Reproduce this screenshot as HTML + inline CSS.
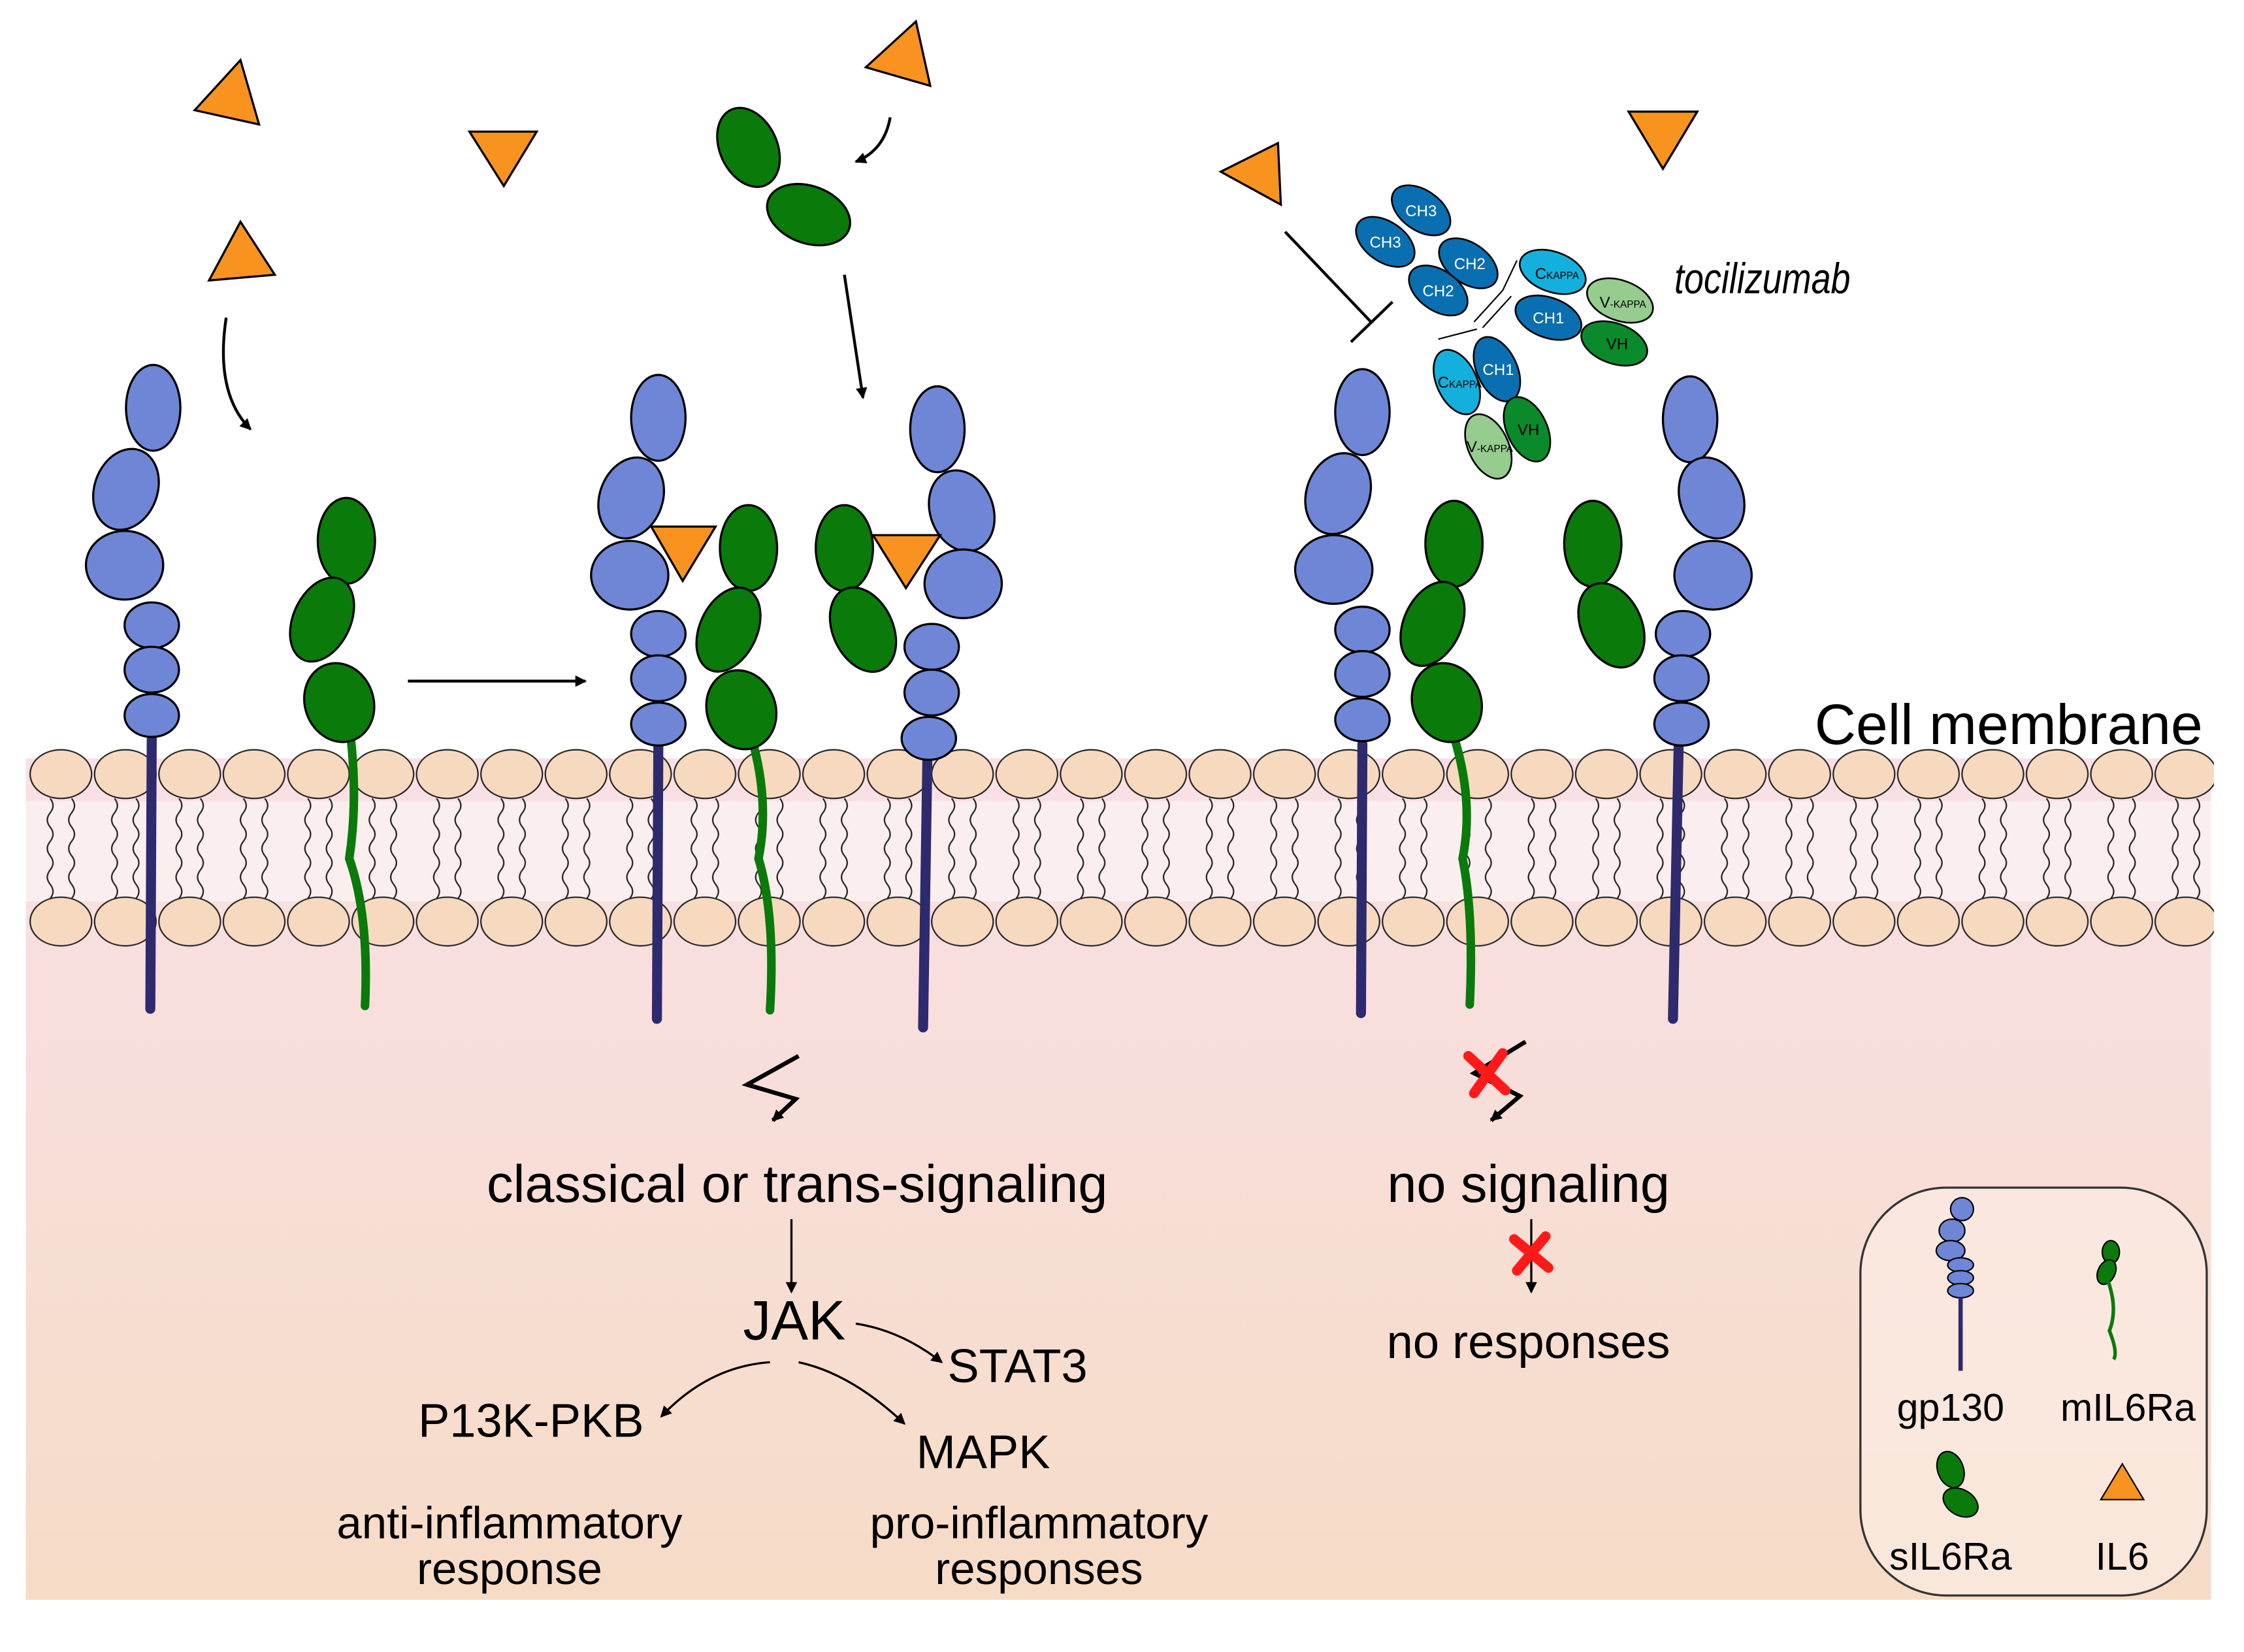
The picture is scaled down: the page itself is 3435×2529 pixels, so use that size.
<!DOCTYPE html>
<html><head><meta charset="utf-8"><style>html,body{margin:0;padding:0;background:#fff}svg{display:block}text{font-family:"Liberation Sans",sans-serif}</style></head>
<body>
<svg width="3435" height="2529" viewBox="0 0 1568 1154.5" xmlns="http://www.w3.org/2000/svg">
<defs>
<linearGradient id="bg" x1="0" y1="0" x2="0" y2="1">
<stop offset="0" stop-color="#f9e0e6"/><stop offset="1" stop-color="#f6dcc6"/>
</linearGradient>
<pattern id="mem" patternUnits="userSpaceOnUse" x="20" y="520" width="45" height="145">
<g fill="none" stroke="#222" stroke-width="1">
<path d="M15,38 q4,5 0,10 q-4,5 0,10 q4,5 0,10 q-4,5 0,10 q4,5 0,10 q-4,5 0,10 q4,5 0,10"/>
<path d="M30,38 q4,5 0,10 q-4,5 0,10 q4,5 0,10 q-4,5 0,10 q4,5 0,10 q-4,5 0,10 q4,5 0,10"/>
</g>
<ellipse cx="22.5" cy="21" rx="21.5" ry="17" fill="#f7d9bf" stroke="#222" stroke-width="1"/>
<ellipse cx="22.5" cy="124" rx="21.5" ry="17" fill="#f7d9bf" stroke="#222" stroke-width="1"/>
</pattern>
<marker id="ah" markerWidth="8" markerHeight="8" refX="7" refY="4" orient="auto" markerUnits="userSpaceOnUse"><path d="M0,0 L8,4 L0,8 z" fill="#000"/></marker>
</defs>
<rect x="18" y="530" width="1527" height="588" fill="url(#bg)"/>
<rect x="18" y="560" width="1527" height="70" fill="#fbeeee"/>
<rect x="20" y="520" width="1527" height="145" fill="url(#mem)"/>

<g stroke="#000" stroke-width="1.5">
<g stroke="#2e2a6e" stroke-width="7" stroke-linecap="round">
<line x1="106" y1="515" x2="105" y2="705"/>
<line x1="460" y1="520" x2="459" y2="712"/>
<line x1="648" y1="530" x2="645" y2="718"/>
<line x1="952" y1="520" x2="951" y2="708"/>
<line x1="1173" y1="520" x2="1169" y2="712"/>
</g>
<g stroke="#0a7a0a" stroke-width="6" fill="none" stroke-linecap="round">
<path d="M245,515 Q250,560 244,600 Q258,640 255,703"/>
<path d="M525,515 Q538,560 530,600 Q542,640 538,706"/>
<path d="M1016,515 Q1030,560 1022,600 Q1030,640 1027,702"/>
</g>
<g fill="#6f86d6">
<ellipse cx="107" cy="285" rx="19" ry="30"/><ellipse cx="88" cy="342" rx="22" ry="29" transform="rotate(20 88 342)"/><ellipse cx="87" cy="395" rx="27" ry="24"/><ellipse cx="106" cy="437" rx="19" ry="16"/><ellipse cx="106" cy="468" rx="19" ry="16"/><ellipse cx="106" cy="500" rx="19" ry="15"/>
<ellipse cx="460" cy="292" rx="19" ry="30"/><ellipse cx="441" cy="348" rx="22" ry="29" transform="rotate(20 441 348)"/><ellipse cx="440" cy="402" rx="27" ry="24"/><ellipse cx="460" cy="443" rx="19" ry="16"/><ellipse cx="460" cy="474" rx="19" ry="16"/><ellipse cx="460" cy="506" rx="19" ry="15"/>
<ellipse cx="655" cy="300" rx="19" ry="30"/><ellipse cx="672" cy="357" rx="22" ry="29" transform="rotate(-20 672 357)"/><ellipse cx="673" cy="408" rx="27" ry="24"/><ellipse cx="651" cy="452" rx="19" ry="16"/><ellipse cx="651" cy="484" rx="19" ry="16"/><ellipse cx="649" cy="516" rx="19" ry="15"/>
<ellipse cx="952" cy="288" rx="19" ry="30"/><ellipse cx="935" cy="345" rx="22" ry="29" transform="rotate(20 935 345)"/><ellipse cx="932" cy="398" rx="27" ry="24"/><ellipse cx="952" cy="440" rx="19" ry="16"/><ellipse cx="952" cy="471" rx="19" ry="16"/><ellipse cx="952" cy="503" rx="19" ry="15"/>
<ellipse cx="1181" cy="293" rx="19" ry="30"/><ellipse cx="1196" cy="348" rx="22" ry="29" transform="rotate(-20 1196 348)"/><ellipse cx="1197" cy="402" rx="27" ry="24"/><ellipse cx="1176" cy="443" rx="19" ry="16"/><ellipse cx="1175" cy="474" rx="19" ry="16"/><ellipse cx="1175" cy="506" rx="19" ry="15"/>
</g>
<g fill="#0a7a0a">
<ellipse cx="242" cy="378" rx="20" ry="30"/><ellipse cx="225" cy="433" rx="20" ry="31" transform="rotate(25 225 433)"/><ellipse cx="237" cy="491" rx="24" ry="28" transform="rotate(-20 237 491)"/>
<ellipse cx="523" cy="383" rx="20" ry="30"/><ellipse cx="509" cy="440" rx="20" ry="31" transform="rotate(25 509 440)"/><ellipse cx="518" cy="496" rx="24" ry="28" transform="rotate(-20 518 496)"/>
<ellipse cx="590" cy="383" rx="20" ry="30"/><ellipse cx="603" cy="440" rx="21" ry="31" transform="rotate(-25 603 440)"/>
<ellipse cx="1016" cy="380" rx="20" ry="30"/><ellipse cx="1001" cy="436" rx="20" ry="31" transform="rotate(25 1001 436)"/><ellipse cx="1011" cy="491" rx="24" ry="28" transform="rotate(-20 1011 491)"/>
<ellipse cx="1113" cy="380" rx="20" ry="30"/><ellipse cx="1126" cy="437" rx="21" ry="31" transform="rotate(-25 1126 437)"/>
<ellipse cx="523" cy="103" rx="20" ry="29" transform="rotate(-25 523 103)"/><ellipse cx="565" cy="150" rx="30" ry="20" transform="rotate(20 565 150)"/>
</g>
<g fill="#f7931e">
<polygon points="455,368 500,368 477,406"/><polygon points="610,374 657,374 633,411"/>
<polygon points="136,77 168,42 181,87"/><polygon points="328,92 375,92 352,130"/><polygon points="146,196 168,155 192,192"/>
<polygon points="605,47 640,15 650,60"/><polygon points="853,120 893,100 895,143"/><polygon points="1138,78 1186,78 1162,118"/>
</g>
<g stroke-width="1.2">
<g fill="#0a6fb0">
<ellipse cx="993" cy="147" rx="23" ry="14" transform="rotate(35 993 147)"/><ellipse cx="968" cy="169" rx="23" ry="14" transform="rotate(35 968 169)"/>
<ellipse cx="1026" cy="184" rx="23" ry="14" transform="rotate(35 1026 184)"/><ellipse cx="1005" cy="203" rx="23" ry="14" transform="rotate(35 1005 203)"/>
<ellipse cx="1082" cy="222" rx="24" ry="14" transform="rotate(20 1082 222)"/><ellipse cx="1046" cy="258" rx="24" ry="14" transform="rotate(65 1046 258)"/>
</g>
<g fill="#13b0de"><ellipse cx="1085" cy="190" rx="24" ry="14" transform="rotate(20 1085 190)"/><ellipse cx="1018" cy="267" rx="24" ry="14" transform="rotate(65 1018 267)"/></g>
<g fill="#96cc8e"><ellipse cx="1132" cy="210" rx="24" ry="14" transform="rotate(20 1132 210)"/><ellipse cx="1040" cy="312" rx="24" ry="14" transform="rotate(65 1040 312)"/></g>
<g fill="#0a8a2a"><ellipse cx="1128" cy="240" rx="24" ry="14" transform="rotate(20 1128 240)"/><ellipse cx="1067" cy="300" rx="24" ry="14" transform="rotate(65 1067 300)"/></g>
<path d="M1030,225 L1050,203 M1036,229 L1056,207 M1050,203 L1060,182 M1032,230 L1005,237" fill="none" stroke-width="1"/>
</g>
</g>
<g font-size="11" fill="#fff" text-anchor="middle">
<text x="993" y="151">CH3</text><text x="968" y="173">CH3</text><text x="1027" y="188">CH2</text><text x="1005" y="207">CH2</text><text x="1082" y="226">CH1</text><text x="1047" y="262">CH1</text>
</g>
<g font-size="11" fill="#000" text-anchor="middle">
<text x="1088" y="195">C<tspan font-size="7">KAPPA</tspan></text><text x="1134" y="215">V<tspan font-size="7">-KAPPA</tspan></text><text x="1130" y="244">VH</text>
<text x="1020" y="271">C<tspan font-size="7">KAPPA</tspan></text><text x="1041" y="316">V<tspan font-size="7">-KAPPA</tspan></text><text x="1068" y="304">VH</text>
</g>
<text x="1170" y="205" font-size="30" font-style="italic" transform="translate(1170 205) scale(0.82 1) translate(-1170 -205)">tocilizumab</text>

<g fill="none" stroke="#000" stroke-width="2">
<line x1="285" y1="476" x2="409" y2="476" marker-end="url(#ah)"/>
<path d="M158,222 Q150,275 175,300" marker-end="url(#ah)"/>
<path d="M622,82 Q618,105 598,113" marker-end="url(#ah)"/>
<line x1="590" y1="192" x2="603" y2="278" marker-end="url(#ah)"/>
<line x1="898" y1="162" x2="958" y2="225"/><line x1="944" y1="239" x2="973" y2="211"/>
<path d="M558,738 L522,758 L556,768 L540,783" stroke-width="3" marker-end="url(#ah)"/>
<path d="M1066,728 L1030,750 L1062,766 L1042,783" stroke-width="3" marker-end="url(#ah)"/>
<line x1="553" y1="852" x2="553" y2="903" stroke-width="1.5" marker-end="url(#ah)"/>
<line x1="1070" y1="852" x2="1070" y2="903" stroke-width="1.5" marker-end="url(#ah)"/>
<path d="M598,925 Q630,930 658,952" stroke-width="1.5" marker-end="url(#ah)"/>
<path d="M538,952 Q495,955 462,990" stroke-width="1.5" marker-end="url(#ah)"/>
<path d="M558,952 Q595,960 632,995" stroke-width="1.5" marker-end="url(#ah)"/>
</g>
<g stroke="#ff1a1a" stroke-width="7" stroke-linecap="round">
<line x1="1026" y1="738" x2="1052" y2="762"/><line x1="1050" y1="736" x2="1030" y2="764"/>
<line x1="1058" y1="866" x2="1082" y2="886"/><line x1="1080" y1="864" x2="1060" y2="888"/>
</g>

<text x="1268" y="520" font-size="40">Cell membrane</text>
<g text-anchor="middle">
<text x="557" y="840" font-size="37">classical or trans-signaling</text>
<text x="1068" y="840" font-size="37">no signaling</text>
<text x="555" y="936" font-size="39">JAK</text>
<text x="711" y="966" font-size="33">STAT3</text>
<text x="371" y="1004" font-size="33">P13K-PKB</text>
<text x="687" y="1026" font-size="33">MAPK</text>
<text x="1068" y="949" font-size="33">no responses</text>
<text x="356" y="1075" font-size="31.5">anti-inflammatory</text>
<text x="356" y="1107" font-size="31.5">response</text>
<text x="726" y="1075" font-size="31.5">pro-inflammatory</text>
<text x="726" y="1107" font-size="31.5">responses</text>
</g>
<rect x="1300" y="830" width="242" height="285" rx="60" fill="#fcefe8" stroke="#333" stroke-width="1.5" fill-opacity="0.6"/>
<g stroke="#000" stroke-width="1">
<g fill="#6f86d6"><ellipse cx="1371" cy="845" rx="8" ry="8"/><ellipse cx="1364" cy="860" rx="9" ry="8"/><ellipse cx="1363" cy="874" rx="10" ry="7"/><ellipse cx="1370" cy="884" rx="9" ry="5"/><ellipse cx="1370" cy="893" rx="9" ry="5"/><ellipse cx="1370" cy="902" rx="9" ry="5"/></g>
<g fill="#0a7a0a"><ellipse cx="1475" cy="875" rx="6" ry="8"/><ellipse cx="1472" cy="889" rx="6" ry="9" transform="rotate(25 1472 889)"/><ellipse cx="1363" cy="1027" rx="9" ry="13" transform="rotate(-20 1363 1027)"/><ellipse cx="1370" cy="1050" rx="13" ry="9" transform="rotate(30 1370 1050)"/></g>
<polygon points="1468,1048 1483,1023 1498,1048" fill="#f7931e"/>
</g>
<line x1="1370" y1="907" x2="1370" y2="958" stroke="#2e2a6e" stroke-width="3"/>
<path d="M1473,895 Q1480,915 1474,930 Q1480,945 1477,950" stroke="#0a7a0a" stroke-width="2.5" fill="none"/>
<g font-size="27" text-anchor="middle">
<text x="1363" y="993">gp130</text><text x="1487" y="993">mIL6Ra</text>
<text x="1363" y="1097">sIL6Ra</text><text x="1483" y="1097">IL6</text>
</g>
</svg>
</body></html>
